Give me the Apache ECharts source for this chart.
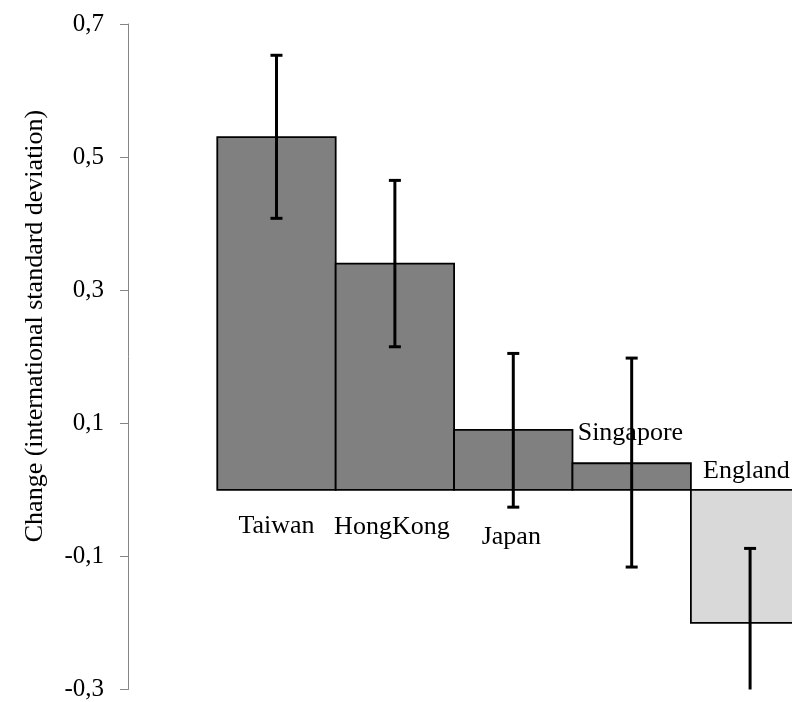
<!DOCTYPE html>
<html>
<head>
<meta charset="utf-8">
<script src="https://cdn.jsdelivr.net/npm/echarts@6/dist/echarts.min.js"></script>
<style>
html,body{margin:0;padding:0;background:#fff;}
#chart{width:792px;height:702px;}
</style>
</head>
<body>
<div id="chart"></div>
<script>
// ---- data ----
const countries = ['Taiwan', 'HongKong', 'Japan', 'Singapore', 'England'];
const changeValues = [0.53, 0.34, 0.09, 0.04, -0.20];
const errorLow = [0.408, 0.215, -0.026, -0.116, -0.31];
const errorHigh = [0.653, 0.465, 0.205, 0.198, -0.088];
const yTicks = [-0.3, -0.1, 0.1, 0.3, 0.5, 0.7];
const yTitle = 'Change (international standard deviation)';

// ---- styles (not data) ----
const barColors = ['#808080', '#808080', '#808080', '#808080', '#d9d9d9'];
// label placement relative to the bar's zero point: [dx, dy, align]
const labelPlacement = [[0, 36, 'center'], [-3, 37, 'center'], [-2, 47, 'center'], [-54, -57, 'left'], [-47, -19, 'left']];
const serif = '"Liberation Serif", "DejaVu Serif", serif';

const barData = changeValues.map((v, i) => [i + 1, v]);
const errData = changeValues.map((v, i) => [i + 1, errorLow[i], errorHigh[i]]);
const labelData = countries.map((c, i) => [i + 1, 0]);

const chart = echarts.init(document.getElementById('chart'), null, {renderer: 'canvas'});
const Y_MIN = -0.3, Y_MAX = 0.7;

chart.setOption({
  animation: false,
  backgroundColor: '#ffffff',
  grid: {left: 128, right: 0, top: 24, bottom: 11, containLabel: false},
  xAxis: {
    type: 'value', min: -0.254, max: 5.354, show: false
  },
  yAxis: {
    type: 'value', min: Y_MIN, max: Y_MAX, interval: 0.2,
    axisLine: {show: true, onZero: false, lineStyle: {color: '#868686', width: 1}},
    axisTick: {show: true, inside: false, length: 8, lineStyle: {color: '#868686', width: 1}},
    splitLine: {show: false},
    axisLabel: {
      margin: 24,
      fontFamily: serif, fontSize: 25, color: '#000',
      formatter: function (v) {
        const r = Math.round(v * 10) / 10;
        return yTicks.some(t => Math.abs(t - r) < 1e-9) ? r.toFixed(1).replace('.', ',') : '';
      }
    }
  },
  graphic: [{
    type: 'text', x: 35, y: 326, rotation: Math.PI / 2,
    style: {text: yTitle, font: '26px ' + serif, fill: '#000', textAlign: 'center', textVerticalAlign: 'middle'}
  }],
  series: [
    {
      type: 'custom', clip: true,
      data: barData,
      encode: {x: 0, y: 1},
      renderItem: function (params, api) {
        const x = api.value(0), v = api.value(1);
        const p0 = api.coord([x - 0.5, 0]);
        const p1 = api.coord([x + 0.5, v]);
        return {
          type: 'rect',
          shape: {x: p0[0], y: Math.min(p0[1], p1[1]), width: p1[0] - p0[0], height: Math.abs(p1[1] - p0[1])},
          style: {fill: barColors[params.dataIndex], stroke: '#000', lineWidth: 1.8}
        };
      }
    },
    {
      type: 'custom', clip: false,
      data: errData,
      encode: {x: 0, y: [1, 2]},
      renderItem: function (params, api) {
        const x = api.value(0);
        let lo = api.value(1), hi = api.value(2);
        const loCap = lo >= Y_MIN, hiCap = hi <= Y_MAX;
        lo = Math.max(lo, Y_MIN); hi = Math.min(hi, Y_MAX);
        const a = api.coord([x, lo]), b = api.coord([x, hi]);
        const half = 6;
        const children = [{
          type: 'line', shape: {x1: a[0], y1: a[1], x2: b[0], y2: b[1]},
          style: {stroke: '#000', lineWidth: 3}
        }];
        if (loCap) children.push({type: 'line', shape: {x1: a[0] - half, y1: a[1], x2: a[0] + half, y2: a[1]}, style: {stroke: '#000', lineWidth: 3}});
        if (hiCap) children.push({type: 'line', shape: {x1: b[0] - half, y1: b[1], x2: b[0] + half, y2: b[1]}, style: {stroke: '#000', lineWidth: 3}});
        return {type: 'group', children: children};
      }
    },
    {
      type: 'custom', clip: false, z: 5,
      data: labelData,
      encode: {x: 0, y: 1},
      renderItem: function (params, api) {
        const i = params.dataIndex;
        const p = api.coord([api.value(0), api.value(1)]);
        const pl = labelPlacement[i];
        return {
          type: 'text',
          x: p[0] + pl[0], y: p[1] + pl[1],
          style: {text: countries[i], font: '26px ' + serif, fill: '#000', textAlign: pl[2], textVerticalAlign: 'middle'}
        };
      }
    }
  ]
});
</script>
</body>
</html>
